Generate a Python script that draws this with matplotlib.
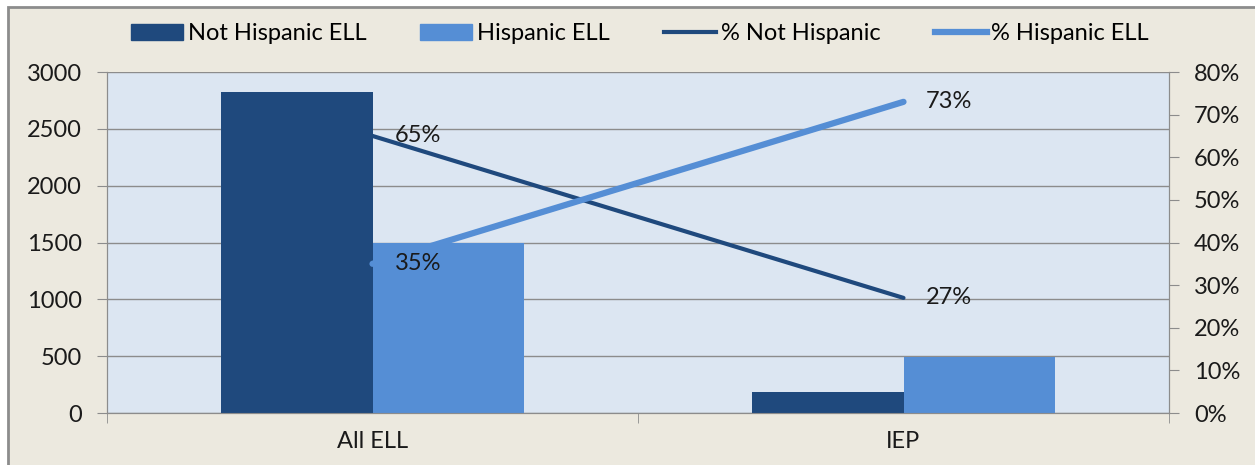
import matplotlib
matplotlib.use("Agg")
import matplotlib.pyplot as plt
import numpy as np
from matplotlib.patches import Rectangle
from matplotlib.lines import Line2D

categories = ["All ELL", "IEP"]
not_hispanic_ell = [2820, 185]
hispanic_ell = [1500, 490]
pct_not_hispanic = [0.65, 0.27]
pct_hispanic = [0.35, 0.73]
pct_labels_not = ["65%", "27%"]
pct_labels_his = ["35%", "73%"]
left_ticks = [0, 500, 1000, 1500, 2000, 2500, 3000]
right_ticks = [0, 0.1, 0.2, 0.3, 0.4, 0.5, 0.6, 0.7, 0.8]

plt.rcParams['font.family'] = ['Lato', 'DejaVu Sans']
FS = 17
dark = "#1F497D"
light = "#558ED5"
bg = "#ECE9DF"
plotbg = "#DCE6F2"
gridc = "#8C8C8C"

W, H = 1255, 465
fig = plt.figure(figsize=(W/100, H/100), dpi=100)
fig.patch.set_facecolor("white")
fig.patches.append(Rectangle((8/W, -0.1), 1.2, 0.1 + (H-7)/H, transform=fig.transFigure,
                             facecolor=bg, edgecolor="#8C8C8C", linewidth=2, zorder=-10))

ax = fig.add_axes([107/W, (H-413)/H, (1169-107)/W, (413-72)/H])
ax.set_facecolor(plotbg)
x = np.arange(len(categories))
bw = 0.286
ax.bar(x - bw/2, not_hispanic_ell, bw, color=dark, zorder=3)
ax.bar(x + bw/2, hispanic_ell, bw, color=light, zorder=3)
ax.set_xlim(-0.5, 1.5)
ax.set_ylim(0, 3000)
ax.set_yticks(left_ticks)
ax.set_yticklabels([str(t) for t in left_ticks], fontsize=FS, color="#1a1a1a")
ax.yaxis.grid(True, color=gridc, linewidth=1)
ax.set_axisbelow(True)
ax.set_xticks(x)
ax.set_xticklabels(categories, fontsize=FS, color="#1a1a1a")
ax.tick_params(axis='x', length=0, pad=13)
ax.set_xticks([-0.5, 0.5, 1.5], minor=True)
ax.tick_params(axis='x', which='minor', length=7, color=gridc, direction='out')
ax.tick_params(axis='y', length=7, color=gridc, pad=11)
for s in ["left", "bottom", "right"]:
    ax.spines[s].set_color(gridc)
ax.spines["top"].set_visible(False)

ax2 = ax.twinx()
ax2.plot(x, pct_not_hispanic, color=dark, linewidth=3, zorder=4, solid_capstyle='round')
ax2.plot(x, pct_hispanic, color=light, linewidth=4.5, zorder=4, solid_capstyle='round')
ax2.set_ylim(0, 0.8)
ax2.set_yticks(right_ticks)
ax2.set_yticklabels([f"{int(round(t*100))}%" for t in right_ticks], fontsize=FS, color="#1a1a1a")
ax2.tick_params(axis='y', length=7, color=gridc, pad=11)
for s in ["left", "bottom", "right"]:
    ax2.spines[s].set_color(gridc)
ax2.spines["top"].set_visible(False)
for xi, v, lab in zip(x, pct_not_hispanic, pct_labels_not):
    ax2.annotate(lab, (xi, v), xytext=(16, 0), textcoords="offset points",
                 fontsize=FS, va="center", ha="left", color="#1a1a1a", zorder=5)
for xi, v, lab in zip(x, pct_hispanic, pct_labels_his):
    ax2.annotate(lab, (xi, v), xytext=(16, 0), textcoords="offset points",
                 fontsize=FS, va="center", ha="left", color="#1a1a1a", zorder=5)

handles = [Rectangle((0, 0), 1, 1, color=dark), Rectangle((0, 0), 1, 1, color=light),
           Line2D([], [], color=dark, linewidth=3), Line2D([], [], color=light, linewidth=4.5)]
labels = ["Not Hispanic ELL", "Hispanic ELL", "% Not Hispanic", "% Hispanic ELL"]
fig.legend(handles, labels, loc="center", bbox_to_anchor=(640/W, 1 - 34/H), ncol=4,
           frameon=False, fontsize=FS, handlelength=2.2, handleheight=0.65,
           handletextpad=0.2, columnspacing=2.3)

fig.savefig("out.png", dpi=100, facecolor=fig.get_facecolor())
